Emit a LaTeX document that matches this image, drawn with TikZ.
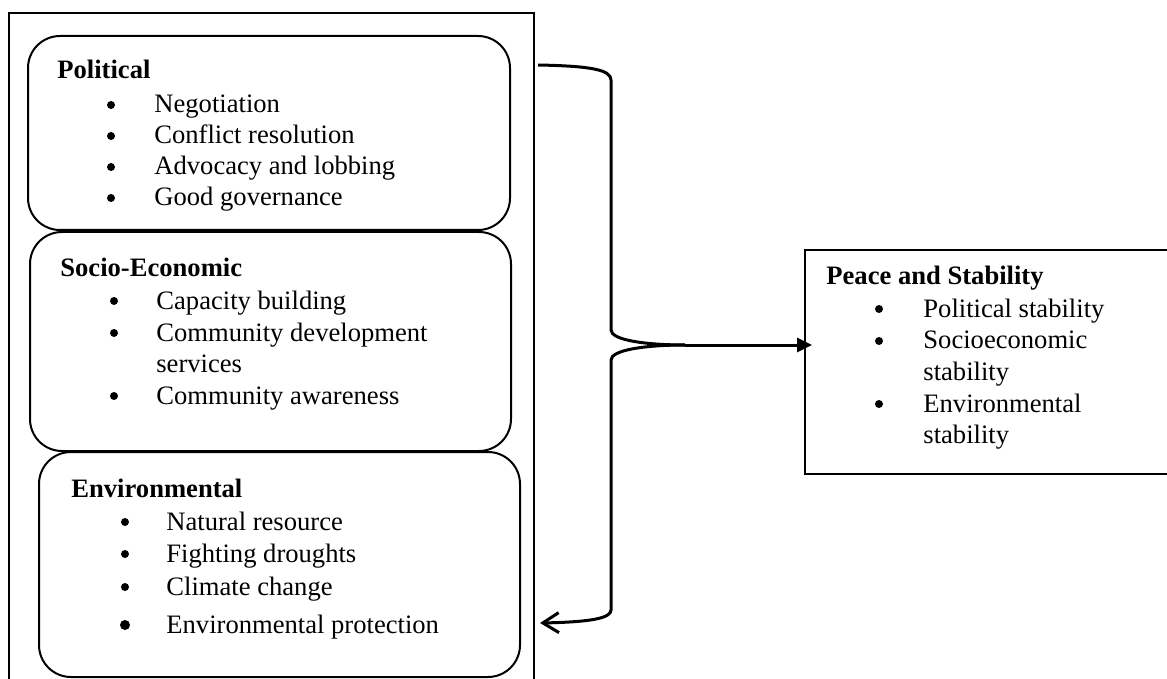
\documentclass[tikz,border=0pt]{standalone}
\usepackage{fontspec}
\setmainfont{Liberation Serif}
\usetikzlibrary{calc,arrows.meta}
\usetikzlibrary{positioning}
\newcommand\bodyfont{\fontsize{13.3}{15.5}\selectfont}
\tikzset{
  box/.style={draw, line width=1pt, rounded corners=16pt, anchor=north west, inner sep=0pt},
  flat/.style={draw, line width=1pt, anchor=north west, inner sep=0pt},
  head/.style={anchor=base west, inner sep=0pt, font=\bodyfont\bfseries},
  item/.style={anchor=base west, inner sep=0pt},
  dot/.style={circle, fill, inner sep=0pt, minimum size=4pt},
  brace/.style={line width=1.5pt},
}
\begin{document}
\begin{tikzpicture}[x=0.5pt, y=-0.5pt, font=\bodyfont]
\useasboundingbox (0,0) rectangle (1167,679);
\clip (0,0) rectangle (1167,679);
\node[flat, minimum width=262.5pt, minimum height=345pt](outer) at (8,12){};
\node[box, minimum width=241pt, minimum height=97pt](pol) at (27,35){};
\node[box, minimum width=240.5pt, minimum height=109.5pt](soc) at (29,231){};
\node[box, minimum width=240.5pt, minimum height=112.5pt](env) at (38,451){};
\node[flat, line width=1.2pt, minimum width=200pt, minimum height=112pt](peace) at (804,249){};
\node[head](polhead) at (57,79){Political};
\foreach \y/\t [count=\i] in {113/Negotiation, 144/Conflict resolution, 175/Advocacy and lobbing, 206/Good governance}{
  \node[dot](pd\i) at (111,\y-8){};
  \node[item](pt\i) at (154,\y){\t};
}
\node[head](sochead) at (60,277){Socio-Economic};
\foreach \y [count=\i] in {309,341,404}
  \node[dot](sd\i) at (114,\y-8){};
\foreach \y/\t [count=\i] in {309/Capacity building, 341/Community development, 372/services, 404/Community awareness}
  \node[item](st\i) at (156,\y){\t};
\node[head](envhead) at (71,497){Environmental};
\foreach \y/\t [count=\i] in {530/Natural resource, 562/Fighting droughts, 595/Climate change}{
  \node[dot](ed\i) at (125,\y-8){};
  \node[item](et\i) at (166,\y){\t};
}
\node[dot, minimum size=5pt](ed4) at (125,625){};
\node[item](et4) at (166,633){Environmental protection};
\node[head](peacehead) at (826,285){Peace and Stability};
\foreach \y [count=\i] in {317,349,412}
  \node[dot](rd\i) at (879,\y-8){};
\foreach \y/\t [count=\i] in {317/Political stability, 349/Socioeconomic, 380/stability, 412/Environmental, 443/stability}
  \node[item](rt\i) at (923,\y){\t};
\coordinate (top) at (538,65);
\coordinate (tip) at (685,345);
\coordinate (bot) at (540,623);
\draw[brace] (top) .. controls (592,66) and (611,70) .. (611,80) -- (611,330) .. controls (611,340) and (645,345) .. (tip);
\draw[brace, -{Straight Barb[length=8pt,width=10pt]}] (tip) .. controls (645,345) and (611,350) .. (611,360) -- (611,610) .. controls (611,618) and (592,622) .. (bot);
\draw[line width=1.5pt, -{Triangle[length=7.5pt,width=7pt]}] (tip) -- ([xshift=4pt]tip -| peace.west);
\end{tikzpicture}
\end{document}
